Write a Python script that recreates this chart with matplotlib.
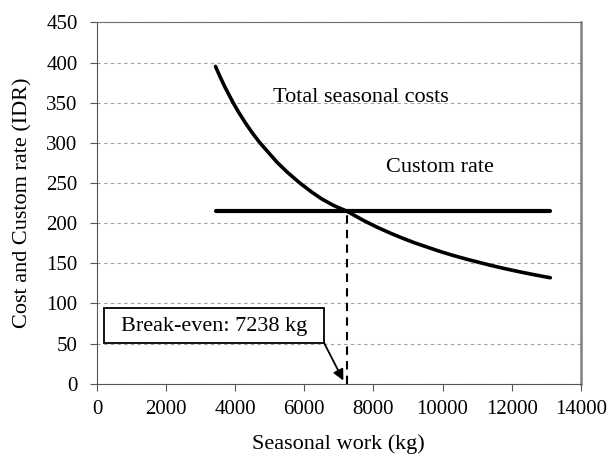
import matplotlib.pyplot as plt
import numpy as np
from matplotlib.patches import Rectangle

plt.rcParams['font.family'] = ['Liberation Serif', 'DejaVu Serif']

# Total seasonal costs (kg, IDR)
work = [3430, 3550, 3700, 3942, 4100, 4300, 4500, 4696, 5200, 5500, 5875,
        6200, 6500, 6850, 7229, 7710, 8100, 8500, 8850, 9200, 9933, 10300,
        10700, 11383, 11800, 12200, 12650, 13120]
total_cost = [395.3, 383.5, 369.8, 349.9, 338.2, 324.6, 312.2, 301.1, 276.4,
              263.8, 249.9, 239.2, 230.3, 222.0, 215.0, 203.5, 195.1, 187.4,
              181.2, 175.4, 164.7, 159.9, 155.1, 147.6, 143.4, 139.7, 135.8,
              132.0]

# Custom rate (flat)
rate_x = [3430, 13120]
rate_y = [215, 215]

break_even = 7238
xticks = np.arange(0, 14001, 2000)
yticks = np.arange(0, 451, 50)

fig = plt.figure(figsize=(6.1, 4.59), dpi=100)
ax = fig.add_axes([0.159, 0.164, 0.793, 0.787])

ax.plot(work, total_cost, color='black', lw=2.6, solid_capstyle='round')
ax.plot(rate_x, rate_y, color='black', lw=3, solid_capstyle='round')
ax.plot([break_even, break_even], [0, rate_y[0]], color='black', lw=1.5,
        linestyle=(0, (4, 3)))

ax.set_xlim(0, 14000)
ax.set_ylim(0, 450)
ax.set_xticks(xticks)
ax.set_yticks(yticks)
ax.tick_params(labelsize=15, direction='out', length=5, color='#555555')
ax.tick_params(axis='y', pad=9)
ax.tick_params(axis='x', pad=7)
ax.yaxis.grid(True, linestyle=(0, (3, 3)), color='#a0a0a0', lw=0.8)
ax.set_axisbelow(True)
ax.spines['left'].set_color('#555555')
ax.spines['bottom'].set_color('#555555')
ax.spines['top'].set_color('#707070')
ax.spines['right'].set_color('#808080')
ax.spines['right'].set_linewidth(1.8)

ax.set_xlabel('Seasonal work (kg)', fontsize=16, labelpad=11)
ax.set_ylabel('Cost and Custom rate (IDR)', fontsize=16, labelpad=10)

ax.text(5090, 356, 'Total seasonal costs', fontsize=16, va='center')
ax.text(8370, 269, 'Custom rate', fontsize=16, va='center')

# break-even callout box with arrow
box_x0, box_x1, box_y0, box_y1 = 194, 6571, 51, 94
ax.add_patch(Rectangle((box_x0, box_y0), box_x1 - box_x0, box_y1 - box_y0,
                       fc='white', ec='black', lw=1.3, zorder=4))
ax.text((box_x0 + box_x1) / 2, (box_y0 + box_y1) / 2 - 1, 'Break-even: 7238 kg',
        fontsize=16, ha='center', va='center', zorder=5)
ax.annotate('', xy=(7130, 4), xytext=(box_x1, box_y0),
            arrowprops=dict(arrowstyle='-|>', color='black', lw=1.3,
                            shrinkA=0, shrinkB=0, mutation_scale=16))

fig.savefig('out.png', dpi=100)
